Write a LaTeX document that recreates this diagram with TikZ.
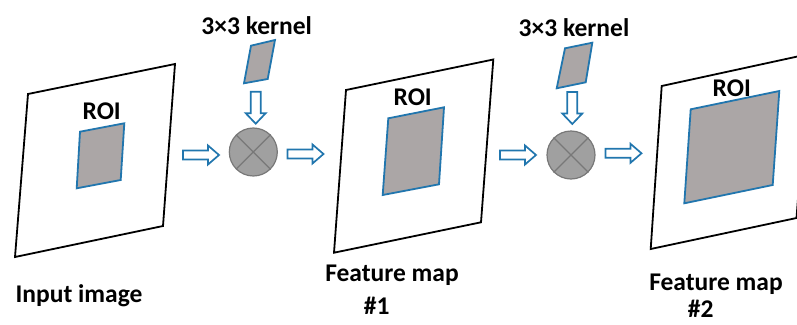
\documentclass[tikz,border=0pt]{standalone}
\usepackage{fontspec}
\setmainfont{Carlito}
\begin{document}
\begin{tikzpicture}[x=1pt,y=-1pt,line join=miter]
  \definecolor{roiblue}{RGB}{33,118,174}
  \definecolor{roigrey}{RGB}{171,166,166}
  \definecolor{opfill}{RGB}{160,160,160}
  \definecolor{opline}{RGB}{120,120,120}
  \tikzset{
    frame/.style={draw=black,line width=1.8pt,fill=white},
    roi/.style={draw=roiblue,line width=1.8pt,fill=roigrey},
    arrowline/.style={draw=roiblue,line width=1.7pt,fill=white},
    label/.style={font=\bfseries\fontsize{25.5}{28}\selectfont,inner sep=0pt,anchor=base},
    op/.style={circle,draw=opline,line width=1.2pt,fill=opfill,minimum size=48pt,inner sep=0pt},
    pics/harrow/.style={code={
      \draw[arrowline] (0,-4.5) -- (25,-4.5) -- (25,-9.5) -- (36,0) -- (25,9.5) -- (25,4.5) -- (0,4.5) -- cycle;}},
    pics/varrow/.style={code={
      \draw[arrowline] (-5,0) -- (-5,21.5) -- (-10,21.5) -- (0,32) -- (10,21.5) -- (5,21.5) -- (5,0) -- cycle;}},
  }
  \useasboundingbox (0,0) rectangle (797,324);
  \clip (0,0) rectangle (797,324);

  % input image
  \draw[frame] (28,94) -- (175,64) -- (163,226) -- (15,257) -- cycle;
  \node[label] (roi0) at (101.7,119.3) {ROI};
  \draw[roi] (80,131.7) -- (124.3,123.3) -- (120.7,180) -- (76.7,188.3) -- cycle;
  \node[label] (lin) at (79,302.7) {Input image};

  % first convolution
  \node[label] (k1) at (256.7,34.3) {3×3 kernel};
  \draw[roi] (251,45.7) -- (275,40) -- (267.7,79) -- (244,83.3) -- cycle;
  \pic at (255.7,91.7) {varrow};
  \node[op] (op1) at (253.3,152) {};
  \draw[opline,line width=1.2pt] (op1.45) -- (op1.225) (op1.135) -- (op1.315);
  \pic at (183,155) {harrow};
  \pic at (287.5,154) {harrow};

  % feature map 1
  \draw[frame] (346,90) -- (493.3,59.5) -- (481,222.3) -- (334,252.7) -- cycle;
  \node[label] (roi1) at (412.7,105.7) {ROI};
  \draw[roi] (388.3,118.3) -- (444,107.3) -- (439,184.3) -- (382.7,195) -- cycle;
  \node[label] (lfm1) at (392,281.7) {Feature map};
  \node[label] (lfm1n) at (376.7,314) {\#1};

  % second convolution
  \node[label] (k2) at (574,36) {3×3 kernel};
  \draw[roi] (565,48.3) -- (592.3,42.7) -- (585.7,82.3) -- (556.7,88.3) -- cycle;
  \pic at (572.3,92) {varrow};
  \node[op] (op2) at (571,155) {};
  \draw[opline,line width=1.2pt] (op2.45) -- (op2.225) (op2.135) -- (op2.315);
  \pic at (500,155) {harrow};
  \pic at (605.5,153.3) {harrow};

  % feature map 2
  \draw[frame] (661.7,86) -- (809,54) -- (796.5,218) -- (650.7,249) -- cycle;
  \node[label] (roi2) at (731.7,96) {ROI};
  \draw[roi] (690.7,109.3) -- (779.3,91) -- (772.7,185) -- (684.3,203.3) -- cycle;
  \node[label] (lfm2) at (716,290.5) {Feature map};
  \node[label] (lfm2n) at (700.8,317.5) {\#2};
\end{tikzpicture}
\end{document}
